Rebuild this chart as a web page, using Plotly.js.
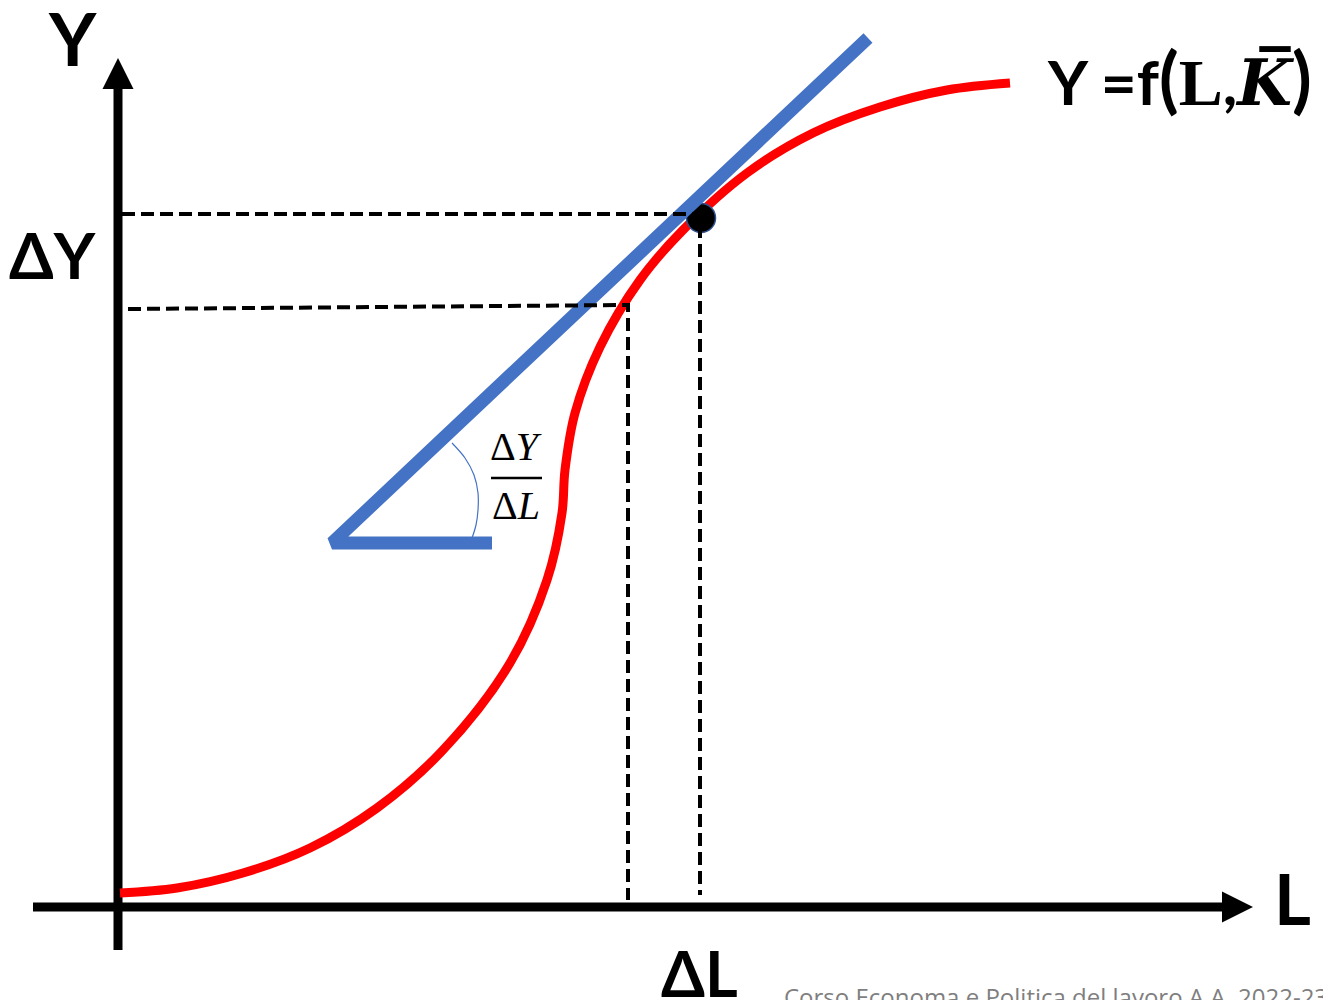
<!DOCTYPE html>
<html><head><meta charset="utf-8">
<script src="https://cdn.plot.ly/plotly-3.0.1.min.js"></script>
<style>html,body{margin:0;padding:0;background:#fff;overflow:hidden}#chart{width:1323px;height:1000px}</style>
</head><body><div id="chart"></div>
<script>
// Production function Y = f(L, K̄): labour L on x, output Y on y
const curveL = [2, 59, 125, 192, 259, 325, 392, 429, 444, 447, 457, 482, 522, 565, 629, 695, 762, 829, 892];
const curveY = [14, 19, 34, 59, 99, 157, 244, 327, 394, 437, 494, 560, 627, 677, 734, 774, 800, 817, 824];
// Tangent line and its horizontal base
const tangentL = [750, 214, 374];
const tangentY = [869, 364, 364];
// Angle arc
const arcL = [334, 347, 356, 360, 360, 358, 354];
const arcY = [464, 449, 432, 414, 397, 382, 369];
// Point of tangency
const pointL = [583];
const pointY = [689];
// Dashed guides
const guideUpperL = [4, 582, 582];
const guideUpperY = [693, 693, 12];
const guideLowerL = [10, 510, 510];
const guideLowerY = [598, 602, 7];
// Axes
const xAxisL = [-85, 1104];
const xAxisY = [0, 0];
const yAxisL = [0, 0];
const yAxisY = [-43, 818];
const headLen = 31, headHalf = 15.5;
// Fraction bar of dY/dL
const fracBarL = [373, 424];
const fracBarY = [429, 429];

// Labels
const labelY = 'Y';
const labelL = 'L';
const labelDY = 'ΔY';
const labelDL = 'ΔL';
const footer = 'Corso Economa e Politica del lavoro A.A. 2022-23';

const xEnd = xAxisL[1], yEnd = yAxisY[1];
const xHeadL = [xEnd, xEnd + headLen, xEnd, xEnd];
const xHeadY = [headHalf, 0, -headHalf, headHalf];
const yHeadL = [-headHalf, 0, headHalf, -headHalf];
const yHeadY = [yEnd, yEnd + headLen, yEnd, yEnd];

const black = '#000000';
const traces = [
  {x: xAxisL, y: xAxisY, mode: 'lines', line: {color: black, width: 9}},
  {x: yAxisL, y: yAxisY, mode: 'lines', line: {color: black, width: 9}},
  {x: xHeadL, y: xHeadY, mode: 'lines', fill: 'toself', fillcolor: black, line: {color: black, width: 0}},
  {x: yHeadL, y: yHeadY, mode: 'lines', fill: 'toself', fillcolor: black, line: {color: black, width: 0}},
  {x: arcL, y: arcY, mode: 'lines', line: {color: '#4472C4', width: 1.2, shape: 'spline'}},
  {x: curveL, y: curveY, mode: 'lines', line: {color: '#FF0000', width: 9, shape: 'spline', smoothing: 1, simplify: false}},
  {x: pointL, y: pointY, mode: 'markers', marker: {color: black, size: 29, line: {color: '#2F528F', width: 1.5}}},
  {x: tangentL, y: tangentY, mode: 'lines', line: {color: '#4472C4', width: 13}},
  {x: guideUpperL, y: guideUpperY, mode: 'lines', line: {color: black, width: 4, dash: '13px,6px'}},
  {x: guideLowerL, y: guideLowerY, mode: 'lines', line: {color: black, width: 4, dash: '13px,6px'}},
  {x: fracBarL, y: fracBarY, mode: 'lines', line: {color: black, width: 2.5}}
];
traces.forEach(t => { t.hoverinfo = 'skip'; t.showlegend = false; });

const sans = 'Lato, "Open Sans", sans-serif';
const serif = '"Liberation Serif", "DejaVu Serif", serif';
const ann = (x, y, text, size, extra) => Object.assign({
  x: x, y: y, xref: 'x', yref: 'y', text: text, showarrow: false,
  font: {family: sans, size: size, color: black}
}, extra || {});

const formula = '<b>Y =f</b><span style="font-size:72px"><b>(</b></span>' +
  '<span style="font-family:\'Liberation Serif\';font-size:66px"><b>L</b></span><b>,</b>' +
  '<span style="font-family:\'DejaVu Serif\';font-size:63px"><b><i>K\u0305</i></b></span>' +
  '<span style="font-size:72px"><b>)</b></span>';

const layout = {
  width: 1323, height: 1000,
  margin: {l: 0, r: 0, t: 0, b: 0, pad: 0},
  paper_bgcolor: '#ffffff', plot_bgcolor: '#ffffff',
  showlegend: false,
  xaxis: {range: [-118, 1205], visible: false, fixedrange: true},
  yaxis: {range: [-93, 907], visible: false, fixedrange: true},
  annotations: [
    ann(-46, 869, '<b>' + labelY + '</b>', 73),
    ann(-66, 653, '<b>' + labelDY + '</b>', 64),
    ann(1174, 10, '<b>' + labelL + '</b>', 71),
    ann(581, -65, '<b>' + labelDL + '</b>', 63),
    ann(927, 830, formula, 62, {xanchor: 'left'}),
    ann(398, 461, 'Δ<i>Y</i>', 40, {font: {family: serif, size: 40, color: black}}),
    ann(398, 402, 'Δ<i>L</i>', 40, {font: {family: serif, size: 40, color: black}}),
    ann(664, -71, footer, 24, {xanchor: 'left', yanchor: 'top', font: {family: '"Open Sans", sans-serif', size: 24, color: '#7F7F7F'}})
  ]
};

Plotly.newPlot('chart', traces, layout, {staticPlot: true, displayModeBar: false});
</script>
</body></html>
